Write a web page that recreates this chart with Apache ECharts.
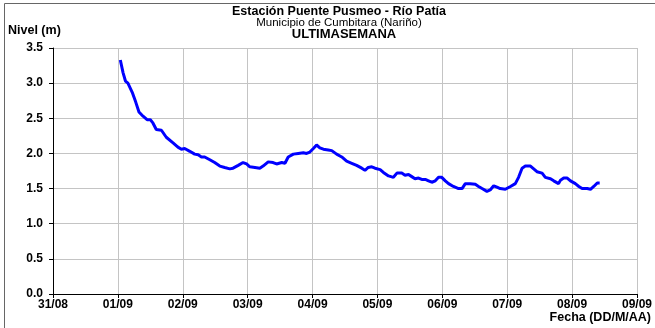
<!DOCTYPE html>
<html>
<head>
<meta charset="utf-8">
<script src="https://cdn.jsdelivr.net/npm/echarts@6/dist/echarts.min.js"></script>
<style>
html,body{margin:0;padding:0;background:#fff;}
#c{width:655px;height:328px;}
</style>
</head>
<body>
<div id="c"></div>
<script>
// Tick labels (one per day, 24 h apart)
const tickLabels = ['31/08','01/09','02/09','03/09','04/09','05/09','06/09','07/09','08/09','09/09'];
// Hours since 31/08 00:00
const hours = [24.9,25.9,26.8,27.7,29.3,30.6,31.8,33.3,34.8,36.0,37.0,38.2,40.1,41.9,44.4,46.2,47.5,48.7,50.6,52.4,53.7,54.9,56.1,58.0,59.8,61.7,63.5,65.4,66.6,68.5,70.3,71.6,72.8,74.7,76.5,77.7,79.6,81.4,82.7,84.6,85.8,87.0,88.9,90.7,92.6,93.8,95.0,96.3,97.5,98.7,100.0,101.8,103.1,104.9,106.8,108.6,110.5,112.3,114.2,115.4,116.6,117.9,119.1,121.0,122.2,124.1,125.9,127.2,129.0,130.2,131.5,132.7,133.9,135.2,136.4,137.7,138.9,140.1,141.4,142.6,143.8,145.1,146.3,148.1,150.0,151.3,152.5,153.1,154.3,156.2,157.4,158.7,160.5,161.7,163.0,164.2,165.4,167.3,169.2,171.0,172.2,173.5,174.7,176.6,177.8,179.0,180.9,182.1,184.0,185.2,187.0,187.7,188.9,190.2,191.4,193.2,194.5,195.7,197.6,198.8,200.0,201.3,202.2];
// Water level (m)
const levels = [3.33,3.15,3.03,3.00,2.87,2.73,2.59,2.53,2.48,2.48,2.43,2.34,2.33,2.23,2.15,2.09,2.06,2.07,2.03,1.99,1.98,1.95,1.95,1.91,1.87,1.82,1.80,1.78,1.79,1.83,1.87,1.85,1.81,1.80,1.79,1.82,1.88,1.87,1.85,1.87,1.86,1.95,1.99,2.00,2.01,2.00,2.02,2.07,2.12,2.08,2.06,2.05,2.04,1.99,1.95,1.89,1.86,1.83,1.79,1.76,1.80,1.81,1.79,1.77,1.73,1.68,1.66,1.72,1.72,1.69,1.70,1.67,1.64,1.65,1.63,1.63,1.61,1.59,1.61,1.66,1.66,1.61,1.57,1.53,1.50,1.50,1.57,1.59,1.57,1.56,1.53,1.50,1.46,1.48,1.54,1.52,1.50,1.49,1.53,1.57,1.66,1.79,1.82,1.82,1.78,1.74,1.72,1.66,1.64,1.61,1.57,1.62,1.65,1.65,1.61,1.57,1.53,1.50,1.50,1.49,1.53,1.58,1.58];

const FONT = '"Liberation Sans", Arial, sans-serif';
const chart = echarts.init(document.getElementById('c'), null, {renderer:'canvas'});
chart.setOption({
  animation:false,
  backgroundColor:'#ffffff',
  grid:{left:53, right:18, top:48, bottom:34, containLabel:false},
  xAxis:{
    type:'value', min:0, max:216, interval:24,
    axisLine:{show:true, lineStyle:{color:'#000', width:1}},
    axisTick:{show:true, length:4, lineStyle:{color:'#000'}},
    axisLabel:{margin:5, fontFamily:FONT, fontWeight:'bold', fontSize:12, color:'#000',
      formatter:v=>tickLabels[Math.round(v/24)]},
    splitLine:{show:true, lineStyle:{color:'#c4c4c4', width:1}}
  },
  yAxis:{
    type:'value', min:0, max:3.5, interval:0.5,
    axisLine:{show:true, lineStyle:{color:'#000', width:1}},
    axisTick:{show:true, length:4, lineStyle:{color:'#000'}},
    axisLabel:{margin:10, fontFamily:FONT, fontWeight:'bold', fontSize:12, color:'#000',
      formatter:v=>v.toFixed(1)},
    splitLine:{show:true, lineStyle:{color:'#c4c4c4', width:1}}
  },
  series:[{
    type:'line', showSymbol:false, smooth:false,
    data:hours.map((h,i)=>[h, levels[i]]),
    lineStyle:{color:'#0000ff', width:3},
    itemStyle:{color:'#0000ff'}
  }],
  graphic:[
    {type:'polyline', shape:{points:[[4.5,328],[4.5,3.5],[655,3.5]]}, style:{stroke:'#666', lineWidth:1, fill:null}},
    {type:'line', shape:{x1:53,y1:48.5,x2:637,y2:48.5}, style:{stroke:'#c4c4c4', lineWidth:1}},
    {type:'text', style:{x:339, y:12, text:'Estación Puente Pusmeo - Río Patía', font:'bold 12.5px '+FONT, fill:'#000', textAlign:'center', textVerticalAlign:'middle'}},
    {type:'text', style:{x:339, y:23, text:'Municipio de Cumbitara (Nariño)', font:'11.5px '+FONT, fill:'#000', textAlign:'center', textVerticalAlign:'middle'}},
    {type:'text', style:{x:344, y:34.5, text:'ULTIMASEMANA', font:'bold 13px '+FONT, fill:'#000', textAlign:'center', textVerticalAlign:'middle'}},
    {type:'text', style:{x:8, y:31, text:'Nivel (m)', font:'bold 12.5px '+FONT, fill:'#000', textAlign:'left', textVerticalAlign:'middle'}},
    {type:'text', style:{x:651, y:318, text:'Fecha (DD/M/AA)', font:'bold 12.5px '+FONT, fill:'#000', textAlign:'right', textVerticalAlign:'middle'}}
  ]
});
</script>
</body>
</html>
